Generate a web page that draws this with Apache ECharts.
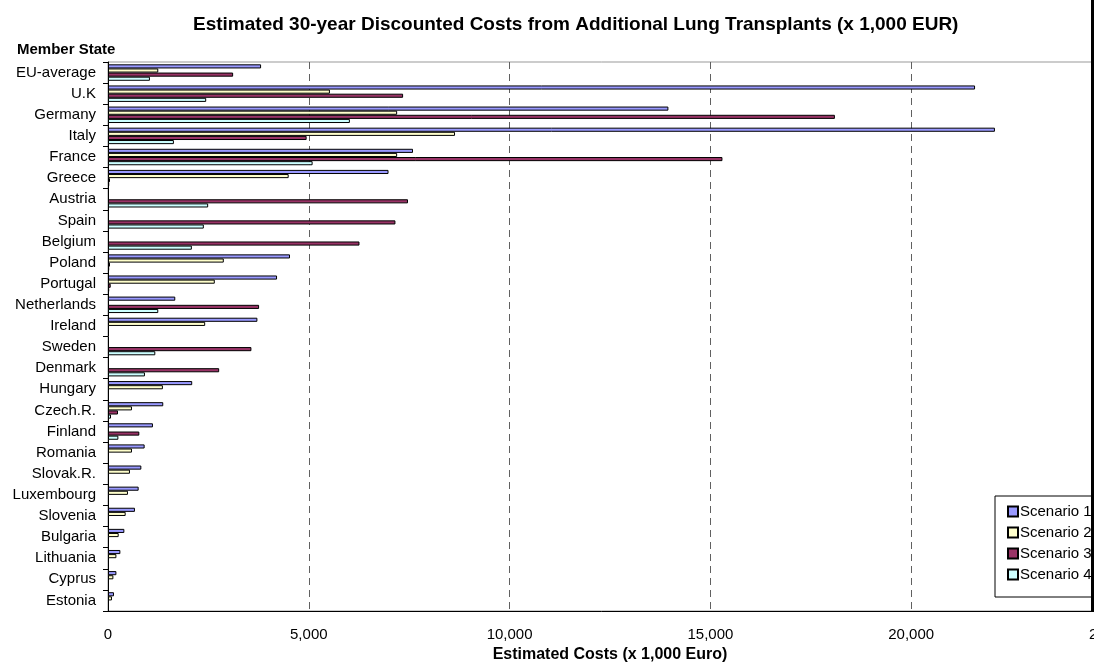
<!DOCTYPE html>
<html>
<head>
<meta charset="utf-8">
<script src="https://cdn.jsdelivr.net/npm/echarts@6/dist/echarts.min.js"></script>
<style>
html,body{margin:0;padding:0;background:#fff;}
#chart{width:1094px;height:670px;}
</style>
</head>
<body>
<div id="chart"></div>
<script>
const categories = ["EU-average","U.K","Germany","Italy","France","Greece","Austria","Spain","Belgium","Poland","Portugal","Netherlands","Ireland","Sweden","Denmark","Hungary","Czech.R.","Finland","Romania","Slovak.R.","Luxembourg","Slovenia","Bulgaria","Lithuania","Cyprus","Estonia"];
const scenario1 = [3812,21590,13954,22085,7595,6985,null,null,null,4532,4209,1675,3720,null,null,2097,1376,1119,912,830,763,671,407,308,209,149];
const scenario2 = [1252,5526,7200,8641,7200,4499,null,null,null,2883,2659,null,2420,null,null,1367,597,null,597,547,497,440,266,209,134,99];
const scenario3 = [3116,7348,18100,4946,15300,50,7470,7157,6262,50,67,3762,null,3571,2768,null,249,780,null,null,null,null,null,null,null,null];
const scenario4 = [1044,2445,6023,1641,5095,30,2494,2386,2088,30,30,1252,null,1178,920,null,75,258,null,null,null,null,null,null,null,null];
const seriesNames = ["Scenario 1","Scenario 2","Scenario 3","Scenario 4"];
const seriesColors = ["#9999FF","#FFFFCC","#993366","#CCFFFF"];
const xTicks = {min:0, max:25000, interval:5000};

const FONT = "'Liberation Sans', Arial, sans-serif";
const chart = echarts.init(document.getElementById('chart'), null, {renderer:'canvas'});
const allData = [scenario1, scenario2, scenario3, scenario4];
chart.setOption({
  animation:false,
  backgroundColor:'#fff',
  title:[
    {text:'Estimated 30-year Discounted Costs from Additional Lung Transplants (x 1,000 EUR)', left:188, top:10,
     textStyle:{fontFamily:FONT, fontSize:19, fontWeight:'bold', color:'#000'}},
    {text:'Member State', left:12, top:37,
     textStyle:{fontFamily:FONT, fontSize:15, fontWeight:'bold', color:'#000'}}
  ],
  legend:{
    orient:'vertical', left:995, top:496, width:200,
    padding:[8,40,15,12], itemGap:6, itemWidth:10, itemHeight:10,
    borderColor:'#000', borderWidth:1, backgroundColor:'#fff',
    icon:'rect',
    textStyle:{fontFamily:FONT, fontSize:15, color:'#000', padding:[0,0,0,-3]},
    data:seriesNames
  },
  grid:{left:108, top:62, width:1004, height:549, show:true, borderColor:'#999', borderWidth:1,
        backgroundColor:'transparent', containLabel:false, outerBoundsMode:'none'},
  xAxis:{
    type:'value', min:xTicks.min, max:xTicks.max, interval:xTicks.interval,
    name:'Estimated Costs (x 1,000 Euro)', nameLocation:'middle', nameGap:36,
    nameTextStyle:{fontFamily:FONT, fontSize:16, fontWeight:'bold', color:'#000'},
    axisLine:{show:true, lineStyle:{color:'#000', width:1}},
    axisTick:{show:false},
    axisLabel:{fontFamily:FONT, fontSize:15, color:'#000', margin:16,
      formatter:v=>v.toLocaleString('en-US')},
    splitLine:{show:true, lineStyle:{color:'#606060', type:[7,5], width:1}}
  },
  yAxis:{
    type:'category', data:categories, inverse:true,
    axisLine:{show:true, lineStyle:{color:'#000', width:1}},
    axisTick:{show:true, length:5, lineStyle:{color:'#000'}},
    axisLabel:{fontFamily:FONT, fontSize:15, color:'#000', margin:12}
  },
  series: allData.map((d,i)=>({
    name:seriesNames[i], type:'bar', data:d,
    barGap:'0%', barCategoryGap:'22%',
    itemStyle:{color:seriesColors[i], borderColor:'#000', borderWidth:1},
  })),
  graphic:[{type:'rect', shape:{x:1091, y:0, width:3, height:612}, style:{fill:'#000'}, z:100}]
});
</script>
</body>
</html>
